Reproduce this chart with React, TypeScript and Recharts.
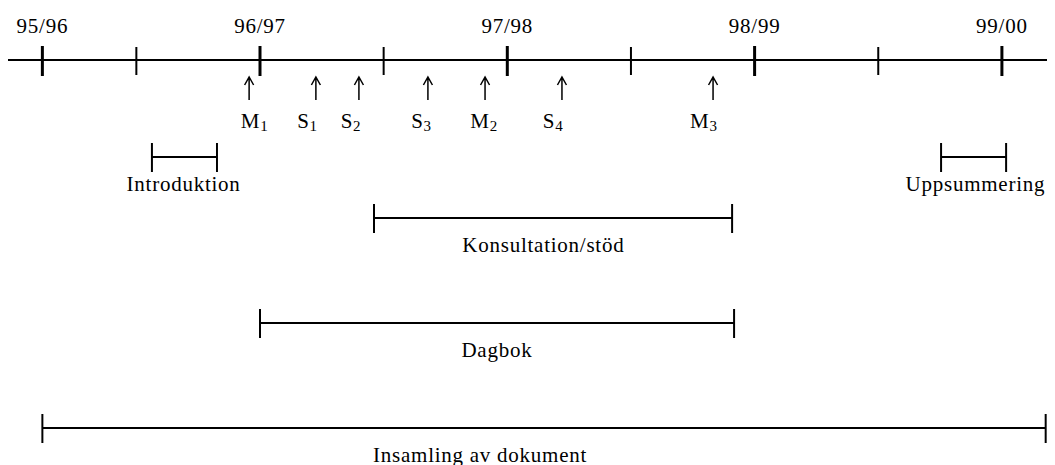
import { ComposedChart, XAxis, YAxis, Scatter, ReferenceLine } from "recharts";

// school years along the time axis (1 = start of 96/97)
const yearTicks = [0.12, 1, 2, 3, 4];
const yearLabels = ["95/96", "96/97", "97/98", "98/99", "99/00"];
const halfYearTicks = [0.5, 1.5, 2.5, 3.5];

// measurement / session points
const eventLetters = ["M", "S", "S", "S", "M", "S", "M"];
const eventIndex = ["1", "1", "2", "3", "2", "4", "3"];
const eventAt = [0.956, 1.226, 1.4, 1.679, 1.91, 2.221, 2.832];
const eventLabelAt = [0.978, 1.192, 1.368, 1.653, 1.906, 2.185, 2.795];

// phases of the study
const phaseNames = ["Introduktion", "Uppsummering", "Konsultation/stöd", "Dagbok", "Insamling av dokument"];
const phaseStart = [0.563, 3.754, 1.461, 1.0, 0.12];
const phaseEnd = [0.826, 4.017, 2.909, 2.917, 4.177];
const phaseLabelAt = [0.691, 3.893, 2.146, 1.958, 1.89];

// layout (page pixels, y axis maps 1:1)
const AXIS_Y = 60;
const PHASE_ROW = [157, 157, 218, 323, 428];
const FONT = '"Liberation Serif", "Times New Roman", serif';
const TXT = { fontFamily: FONT, fontSize: 21, letterSpacing: 0.75, fill: "#000" };

const YearTick = (props: any) => {
  const { x, y, index } = props;
  return (
    <text x={x} y={y} textAnchor="middle" {...TXT}>
      {yearLabels[index]}
    </text>
  );
};

const Arrow = (props: any) => {
  const { cx, cy } = props;
  return (
    <path
      d={`M${cx},${cy + 23} L${cx},${cy} M${cx - 4.5},${cy + 8} L${cx},${cy} L${cx + 4.5},${cy + 8}`}
      stroke="#000"
      strokeWidth={1.5}
      fill="none"
    />
  );
};

const EventLabel = (props: any) => {
  const { cx, cy, payload } = props;
  return (
    <text x={cx} y={cy} textAnchor="middle" {...TXT}>
      <tspan>{payload.letter}</tspan>
      <tspan fontSize={15} dy={3}>{payload.sub}</tspan>
    </text>
  );
};

const PhaseLabel = (props: any) => {
  const { cx, cy, payload } = props;
  return (
    <text x={cx} y={cy} textAnchor="middle" {...TXT}>
      {payload.name}
    </text>
  );
};

export default function App() {
  const arrows = eventAt.map((t) => ({ t, y: 77 }));
  const eventLabels = eventLabelAt.map((t, i) => ({
    t, y: 128, letter: eventLetters[i], sub: eventIndex[i],
  }));
  const phaseLabels = phaseLabelAt.map((t, i) => ({
    t, y: PHASE_ROW[i] + 33.5, name: phaseNames[i],
  }));

  return (
    <ComposedChart width={1047} height={457} margin={{ top: 0, right: 0, bottom: 0, left: 0 }}>
      <XAxis
        type="number" dataKey="t" orientation="top" height={25}
        domain={[-0.019, 4.2147]} allowDataOverflow
        ticks={yearTicks} interval={0}
        tickSize={0} tickMargin={0} axisLine={false} tickLine={false}
        tick={<YearTick />}
      />
      <YAxis type="number" dataKey="y" hide reversed domain={[33, 465]} allowDataOverflow />

      <ReferenceLine y={AXIS_Y} stroke="#000" strokeWidth={2} />
      {yearTicks.map((t) => (
        <ReferenceLine key={"y" + t} segment={[{ x: t, y: AXIS_Y - 14 }, { x: t, y: AXIS_Y + 16 }]} stroke="#000" strokeWidth={3} />
      ))}
      {halfYearTicks.map((t) => (
        <ReferenceLine key={"h" + t} segment={[{ x: t, y: AXIS_Y - 13 }, { x: t, y: AXIS_Y + 15 }]} stroke="#000" strokeWidth={2} />
      ))}

      {phaseNames.map((name, i) => (
        <ReferenceLine key={"p" + name} segment={[{ x: phaseStart[i], y: PHASE_ROW[i] }, { x: phaseEnd[i], y: PHASE_ROW[i] }]} stroke="#000" strokeWidth={1.8} />
      ))}
      {phaseNames.map((name, i) => (
        <ReferenceLine key={"ps" + name} segment={[{ x: phaseStart[i], y: PHASE_ROW[i] - 14 }, { x: phaseStart[i], y: PHASE_ROW[i] + 15 }]} stroke="#000" strokeWidth={2} />
      ))}
      {phaseNames.map((name, i) => (
        <ReferenceLine key={"pe" + name} segment={[{ x: phaseEnd[i], y: PHASE_ROW[i] - 14 }, { x: phaseEnd[i], y: PHASE_ROW[i] + 15 }]} stroke="#000" strokeWidth={2} />
      ))}

      <Scatter data={arrows} shape={<Arrow />} isAnimationActive={false} />
      <Scatter data={eventLabels} shape={<EventLabel />} isAnimationActive={false} />
      <Scatter data={phaseLabels} shape={<PhaseLabel />} isAnimationActive={false} />
    </ComposedChart>
  );
}
